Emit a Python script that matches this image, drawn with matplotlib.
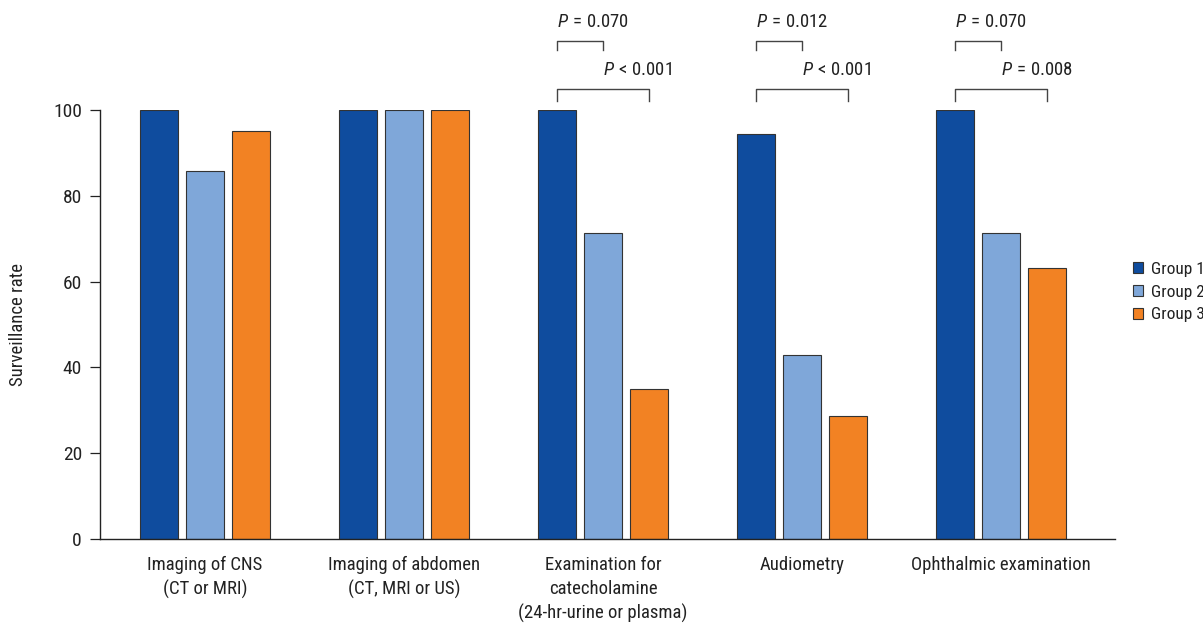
import matplotlib
matplotlib.use("Agg")
import matplotlib.pyplot as plt
from matplotlib import font_manager
import numpy as np

categories = ["Imaging of CNS\n(CT or MRI)", "Imaging of abdomen\n(CT, MRI or US)",
              "Examination for\ncatecholamine\n(24-hr-urine or plasma)", "Audiometry",
              "Ophthalmic examination"]
group_names = ["Group 1", "Group 2", "Group 3"]
group1 = [100, 100, 100, 94.4, 100]
group2 = [85.7, 100, 71.4, 42.9, 71.4]
group3 = [95.2, 100, 35.0, 28.6, 63.2]
colors = ["#0f4c9e", "#7fa7d9", "#f28223"]
pvals = [
    (2, 0, 1, "=", "0.070"), (2, 0, 2, "<", "0.001"),
    (3, 0, 1, "=", "0.012"), (3, 0, 2, "<", "0.001"),
    (4, 0, 1, "=", "0.070"), (4, 0, 2, "=", "0.008"),
]

names = {f.name for f in font_manager.fontManager.ttflist}
fam = "Roboto Condensed" if "Roboto Condensed" in names else "DejaVu Sans"
plt.rcParams["font.family"] = [fam, "DejaVu Sans"]
plt.rcParams["mathtext.fontset"] = "custom"
plt.rcParams["mathtext.rm"] = fam
plt.rcParams["mathtext.it"] = fam + ":italic"

fig = plt.figure(figsize=(12.03, 6.26), dpi=100)
ax = fig.add_axes([100/1203, 1-539/626, (1115-100)/1203, (539-110)/626])
tc = "#222222"

x = np.arange(len(categories))
step = 0.231
width = 0.191
series = [group1, group2, group3]
for i, (vals, c, n) in enumerate(zip(series, colors, group_names)):
    ax.bar(x + (i-1)*step, vals, width, color=c, edgecolor="#333333", linewidth=0.8, label=n, zorder=2)

ax.set_xlim(-0.528, 4.573)
ax.set_ylim(0, 100)
ax.set_yticks([0, 20, 40, 60, 80, 100])
ax.set_xticks(x)
ax.set_xticklabels(categories, fontsize=13.5, color=tc, linespacing=1.42)
ax.tick_params(axis="x", length=0, pad=12)
ax.tick_params(axis="y", direction="out", length=7, width=0.9, labelsize=14, pad=6, colors=tc)
for s in ["top", "right"]:
    ax.spines[s].set_visible(False)
for s in ["left", "bottom"]:
    ax.spines[s].set_linewidth(1.0)
    ax.spines[s].set_color(tc)
ax.set_ylabel("Surveillance rate", fontsize=13.5, color=tc)
ax.yaxis.set_label_coords((27-100)/1015, 0.5)

for cat, a, b, op, val in pvals:
    xa = cat + (a-1)*step
    xb = cat + (b-1)*step
    if b - a == 1:
        ytop, ybot, ytxt = 116.1, 114.0, 120.6
        tx = xa
    else:
        ytop, ybot, ytxt = 104.9, 102.1, 109.4
        tx = cat
    ax.plot([xa, xa, xb, xb], [ybot, ytop, ytop, ybot], color="#444444", lw=1.0, clip_on=False)
    ax.text(tx, ytxt, r"$P\," + op + r"\,$" + val,
            fontsize=13.5, color=tc, ha="left", va="center", clip_on=False)

leg = fig.legend(*ax.get_legend_handles_labels(), loc="center left",
                 bbox_to_anchor=(1133/1203, 1-292/626), bbox_transform=fig.transFigure,
                 frameon=False, fontsize=12.5, borderaxespad=0, borderpad=0,
                 handlelength=0.6, handleheight=0.6, handletextpad=0.45, labelspacing=0.45)
for t in leg.get_texts():
    t.set_color(tc)

fig.savefig("out.png", dpi=100)
